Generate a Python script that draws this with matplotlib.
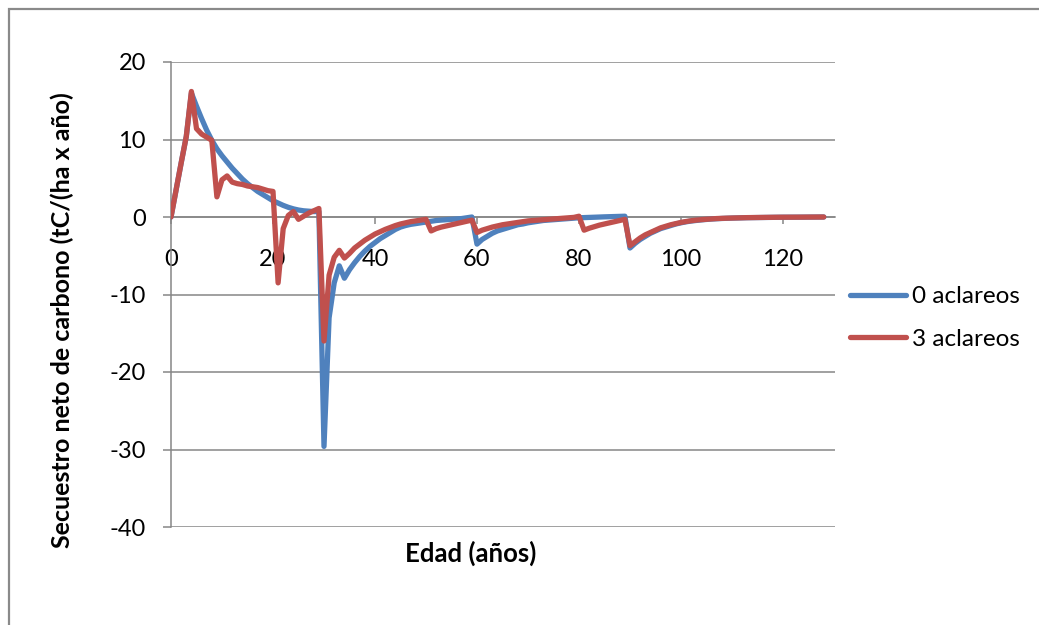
import numpy as np
import matplotlib
matplotlib.use("Agg")
import matplotlib.pyplot as plt
from matplotlib.lines import Line2D
from matplotlib.patches import Rectangle

plt.rcParams['font.family'] = ['Lato', 'DejaVu Sans']

# Stand age (years)
edad = np.arange(0, 129)

# Net carbon sequestration, no thinnings
sin_aclareos = [
    0.0, 3.5, 7.0, 10.4, 16.0, 14.3, 12.7, 11.2, 9.9, 8.8,
    7.9, 7.1, 6.3, 5.6, 4.9, 4.3, 3.8, 3.3, 2.9, 2.5,
    2.1, 1.8, 1.5, 1.25, 1.05, 0.9, 0.8, 0.75, 0.7, 0.7,
    -29.6, -13.0, -8.5, -6.3, -7.9, -6.8, -5.9, -5.1, -4.4, -3.8,
    -3.3, -2.8, -2.4, -2.0, -1.6, -1.3, -1.1, -0.95, -0.85, -0.75,
    -0.65, -0.55, -0.45, -0.4, -0.35, -0.3, -0.25, -0.2, -0.1, 0.0,
    -3.5, -2.9, -2.5, -2.1, -1.8, -1.6, -1.4, -1.2, -1.0, -0.9,
    -0.75, -0.65, -0.55, -0.45, -0.4, -0.35, -0.3, -0.25, -0.2, -0.15,
    -0.1, -0.08, -0.05, -0.03, 0.0, 0.02, 0.04, 0.06, 0.08, 0.1,
    -4.0, -3.4, -2.9, -2.5, -2.1, -1.8, -1.5, -1.3, -1.1, -0.9,
    -0.75, -0.62, -0.52, -0.44, -0.37, -0.31, -0.26, -0.22, -0.19, -0.16,
    -0.14, -0.12, -0.1, -0.09, -0.08, -0.07, -0.06, -0.05, -0.04, -0.04,
    -0.03, -0.03, -0.02, -0.02, -0.02, -0.01, -0.01, -0.01, 0.0,
]

# Net carbon sequestration, three thinnings
tres_aclareos = [
    0.0, 3.5, 7.0, 10.4, 16.2, 11.4, 10.7, 10.3, 9.9, 2.6,
    4.8, 5.3, 4.5, 4.3, 4.2, 4.0, 3.9, 3.8, 3.6, 3.4,
    3.3, -8.5, -1.5, 0.2, 0.7, -0.3, 0.1, 0.5, 0.8, 1.1,
    -16.0, -7.5, -5.2, -4.3, -5.3, -4.7, -4.0, -3.5, -3.0, -2.6,
    -2.2, -1.9, -1.6, -1.35, -1.1, -0.9, -0.75, -0.6, -0.5, -0.4,
    -0.3, -1.8, -1.5, -1.3, -1.15, -1.0, -0.85, -0.7, -0.55, -0.4,
    -2.0, -1.7, -1.5, -1.3, -1.15, -1.0, -0.9, -0.8, -0.7, -0.6,
    -0.5, -0.45, -0.4, -0.35, -0.3, -0.25, -0.2, -0.15, -0.1, -0.05,
    0.1, -1.7, -1.45, -1.25, -1.05, -0.9, -0.75, -0.6, -0.45, -0.3,
    -3.7, -3.2, -2.7, -2.3, -2.0, -1.7, -1.4, -1.2, -1.0, -0.85,
    -0.7, -0.58, -0.48, -0.4, -0.34, -0.29, -0.24, -0.2, -0.17, -0.15,
    -0.13, -0.11, -0.1, -0.08, -0.07, -0.06, -0.05, -0.04, -0.04, -0.03,
    -0.03, -0.02, -0.02, -0.02, -0.01, -0.01, -0.01, -0.01, 0.0,
]

series_names = ["0 aclareos", "3 aclareos"]
series_colors = ["#4F81BD", "#C0504D"]
x_ticks = [0, 20, 40, 60, 80, 100, 120]
y_ticks = [-40, -30, -20, -10, 0, 10, 20]

W, H = 1039, 625
fig = plt.figure(figsize=(W / 100, H / 100), dpi=100)


def fx(px):
    return px / W


def fy(py):
    return 1 - py / H


# chart border
fig.patches.append(Rectangle((fx(9), fy(640)), fx(1050) - fx(9), fy(9) - fy(640),
                             transform=fig.transFigure, fill=False,
                             edgecolor="#8a8a8a", linewidth=1.6))

left, right, top, bottom = 171, 835, 62, 527
ax = fig.add_axes([fx(left), fy(bottom), fx(right) - fx(left), fy(top) - fy(bottom)])

grid_c = "#868686"
for s, c in zip([sin_aclareos, tres_aclareos], series_colors):
    ax.plot(edad, s, color=c, linewidth=3.8, solid_joinstyle="round",
            solid_capstyle="round", zorder=3)

ax.set_xlim(0, 130.2)
ax.set_ylim(-40, 20)
ax.set_yticks(y_ticks)
ax.set_yticklabels([str(v) for v in y_ticks])
ax.set_xticks(x_ticks)
ax.set_xticklabels([str(v) for v in x_ticks])

ax.yaxis.grid(True, color=grid_c, linewidth=1.1, zorder=1)
ax.set_axisbelow(True)
for sp in ["top", "right"]:
    ax.spines[sp].set_visible(False)
ax.spines["left"].set_color(grid_c)
ax.spines["left"].set_linewidth(1.1)
ax.spines["bottom"].set_position(("data", 0))
ax.spines["bottom"].set_color(grid_c)
ax.spines["bottom"].set_linewidth(1.1)

ax.tick_params(axis="y", direction="out", length=6, width=1.1, color=grid_c,
               labelsize=17, pad=12, labelcolor="black")
ax.tick_params(axis="x", direction="out", length=5, width=1.1, color=grid_c,
               labelsize=17, pad=18, labelcolor="black")
for lbl in ax.get_xticklabels() + ax.get_yticklabels():
    lbl.set_clip_on(False)

fig.text(fx(62), fy(320), "Secuestro neto de carbono (tC/(ha x año)",
         rotation=90, ha="center", va="center", fontsize=18, fontweight="bold")
fig.text(fx(471), fy(553), "Edad (años)", ha="center", va="center",
         fontsize=18.5, fontweight="bold")

handles = [Line2D([], [], color=c, linewidth=3.8, solid_capstyle="round")
           for c in series_colors]
fig.legend(handles, series_names, loc="center left",
           bbox_to_anchor=(fx(850), fy(318)), frameon=False, fontsize=17.5,
           handlelength=2.3, handletextpad=0.25, labelspacing=0.9,
           borderpad=0, borderaxespad=0)

fig.savefig("out.png", dpi=100)
